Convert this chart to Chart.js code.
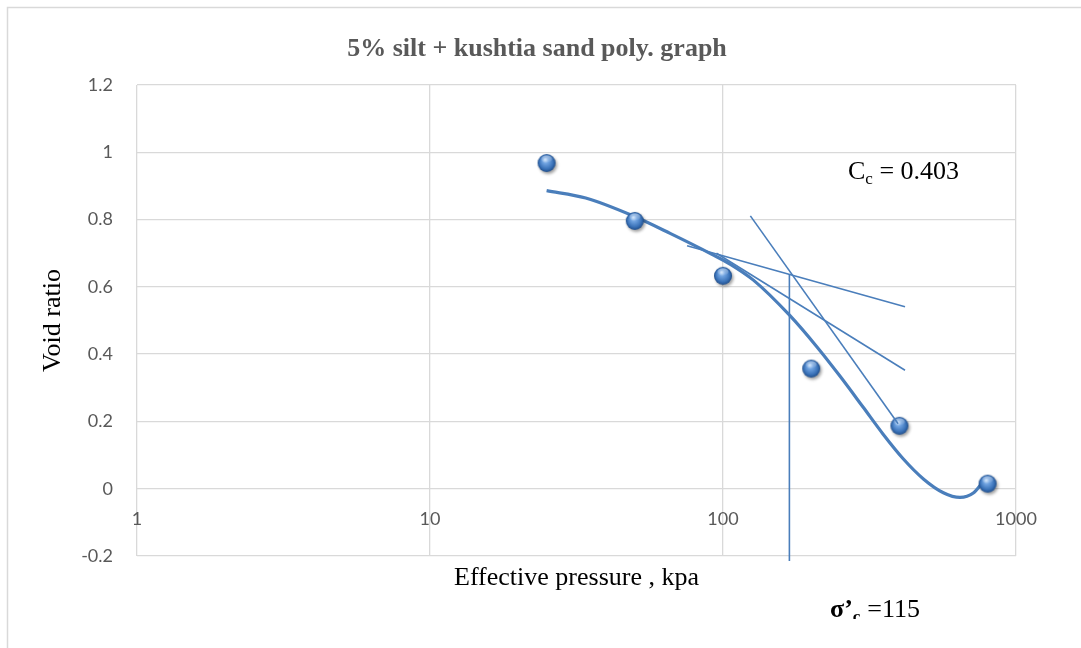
<!DOCTYPE html>
<html>
<head>
<meta charset="utf-8">
<script src="https://cdn.jsdelivr.net/npm/chart.js@4.4.1/dist/chart.umd.min.js"></script>
<style>
  html, body { margin: 0; padding: 0; background: #ffffff; }
  #wrap { width: 1081px; height: 648px; position: relative; }
</style>
</head>
<body>
<div id="wrap"><canvas id="c" width="1081" height="648"></canvas></div>
<script>
// ---- data ----
const pressure = [25, 50, 100, 200, 400, 800];
const voidRatio = [0.968, 0.796, 0.633, 0.357, 0.187, 0.015];

const trendX = [25, 34, 49, 66, 92, 106, 127, 169, 209, 251, 301, 352, 412, 483, 565, 644, 715, 773];
const trendY = [0.886, 0.864, 0.812, 0.759, 0.696, 0.667, 0.620, 0.515, 0.422, 0.334, 0.242, 0.162, 0.089, 0.029, -0.012, -0.026, -0.013, 0.021];

const tangentX = [75.4, 418];
const tangentY = [0.722, 0.541];
const bisectorX = [95, 418];
const bisectorY = [0.700, 0.352];
const slopeX = [124, 396];
const slopeY = [0.811, 0.193];
const verticalX = [168.5, 168.5];
const verticalY = [0.638, -0.215];

const xTicks = [1, 10, 100, 1000];
const yMin = -0.2, yMax = 1.2, yStep = 0.2;

const titleText = '5% silt + kushtia sand poly. graph';
const xTitle = 'Effective pressure , kpa';
const yTitle = 'Void ratio';
const ccValue = '0.403';
const sigmaValue = '115';

// ---- helpers ----
function pairs(xs, ys) { return xs.map((x, i) => ({ x: x, y: ys[i] })); }

function sphere() {
  const c = document.createElement('canvas');
  c.width = 28; c.height = 28;
  const g = c.getContext('2d');
  const cx = 14, cy = 14, r = 9;
  g.save();
  g.filter = 'blur(1.6px)';
  g.fillStyle = 'rgba(0,0,0,0.38)';
  g.beginPath(); g.arc(cx + 1.5, cy + 2, r, 0, Math.PI * 2); g.fill();
  g.restore();
  const grad = g.createRadialGradient(cx - 1.5, cy - 3.5, 0.5, cx, cy, r);
  grad.addColorStop(0, '#c3dcf8');
  grad.addColorStop(0.3, '#6fa2e0');
  grad.addColorStop(0.75, '#3a72b8');
  grad.addColorStop(1, '#1f4d8a');
  g.fillStyle = grad;
  g.beginPath(); g.arc(cx, cy, r, 0, Math.PI * 2); g.fill();
  const hl = g.createLinearGradient(0, cy - r, 0, cy);
  hl.addColorStop(0, 'rgba(255,255,255,0.55)');
  hl.addColorStop(1, 'rgba(255,255,255,0)');
  g.fillStyle = hl;
  g.beginPath(); g.ellipse(cx, cy - 4, 5.5, 3.5, 0, 0, Math.PI * 2); g.fill();
  return c;
}

const lineColor = '#4a7ebb';

const decor = {
  id: 'decor',
  beforeDraw(chart) {
    const ctx = chart.ctx;
    ctx.save();
    ctx.strokeStyle = '#d9d9d9';
    ctx.lineWidth = 1.5;
    ctx.beginPath();
    ctx.moveTo(7.5, 648); ctx.lineTo(7.5, 7.5); ctx.lineTo(1081, 7.5);
    ctx.stroke();
    ctx.restore();
  },
  afterDraw(chart) {
    const ctx = chart.ctx;
    const a = chart.chartArea;
    ctx.save();
    // chart title
    ctx.fillStyle = '#595959';
    ctx.font = 'bold 26px "Liberation Serif"';
    ctx.textAlign = 'center';
    ctx.textBaseline = 'middle';
    ctx.fillText(titleText, 537, 49);
    // axis titles
    ctx.fillStyle = '#000000';
    ctx.font = '26px "Liberation Serif"';
    ctx.fillText(xTitle, (a.left + a.right) / 2, 578);
    ctx.save();
    ctx.translate(53, (a.top + a.bottom) / 2);
    ctx.rotate(-Math.PI / 2);
    ctx.fillText(yTitle, 0, 0);
    ctx.restore();
    // Cc annotation
    ctx.textAlign = 'left';
    ctx.textBaseline = 'alphabetic';
    let x = 848;
    ctx.font = '26px "Liberation Serif"';
    ctx.fillText('C', x, 179); x += ctx.measureText('C').width;
    ctx.font = '17px "Liberation Serif"';
    ctx.fillText('c', x, 184); x += ctx.measureText('c').width;
    ctx.font = '26px "Liberation Serif"';
    ctx.fillText(' = ' + ccValue, x, 179);
    // sigma'c annotation
    x = 830;
    ctx.font = 'bold 26px "Liberation Serif"';
    ctx.fillText('\u03c3\u2019', x, 617); x += ctx.measureText('\u03c3\u2019').width;
    ctx.save();
    ctx.beginPath(); ctx.rect(x - 2, 600, 20, 19); ctx.clip();
    ctx.font = 'bold 17px "Liberation Serif"';
    ctx.fillText('c', x, 622);
    ctx.restore();
    x += 8;
    ctx.font = '26px "Liberation Serif"';
    ctx.fillText(' =' + sigmaValue, x, 617);
    ctx.restore();
  }
};

const ball = sphere();

new Chart(document.getElementById('c'), {
  type: 'scatter',
  data: {
    datasets: [
      { label: 'tangent', data: pairs(tangentX, tangentY), showLine: true, borderColor: lineColor, borderWidth: 1.6, pointRadius: 0, order: 1 },
      { label: 'bisector', data: pairs(bisectorX, bisectorY), showLine: true, borderColor: lineColor, borderWidth: 1.6, pointRadius: 0, order: 1 },
      { label: 'slope', data: pairs(slopeX, slopeY), showLine: true, borderColor: lineColor, borderWidth: 1.6, pointRadius: 0, order: 1 },
      { label: 'vertical', data: pairs(verticalX, verticalY), showLine: true, borderColor: lineColor, borderWidth: 1.6, pointRadius: 0, clip: false, order: 1 },
      { label: 'points', data: pairs(pressure, voidRatio), showLine: false, pointStyle: ball, pointRadius: 9, order: 2 },
      { label: 'trend', data: pairs(trendX, trendY), showLine: true, borderColor: lineColor, borderWidth: 3.2, pointRadius: 0, cubicInterpolationMode: 'monotone', order: 3 }
    ]
  },
  options: {
    responsive: false,
    animation: false,
    events: [],
    layout: { padding: { top: 85, right: 65, bottom: 92, left: 0 } },
    plugins: { legend: { display: false }, tooltip: { enabled: false }, title: { display: false } },
    scales: {
      x: {
        type: 'logarithmic',
        position: { y: 0 },
        min: 1, max: 1000,
        afterBuildTicks(scale) { scale.ticks = xTicks.map(v => ({ value: v, major: true })); },
        ticks: {
          autoSkip: false, maxRotation: 0, padding: 20,
          color: '#595959', font: { family: 'Lato', size: 18 },
          callback: (v) => String(v)
        },
        grid: { color: '#d9d9d9', lineWidth: 1.3, drawTicks: false },
        border: { display: false }
      },
      y: {
        min: yMin, max: yMax,
        afterFit(scale) { scale.width = 137; },
        ticks: {
          stepSize: yStep, padding: 24,
          color: '#595959', font: { family: 'Lato', size: 18 },
          callback: (v) => { const r = Math.round(v * 10) / 10; return r === 0 ? '0' : String(r); }
        },
        grid: { color: '#d9d9d9', lineWidth: 1.3, drawTicks: false },
        border: { display: false }
      }
    }
  },
  plugins: [decor]
});
</script>
</body>
</html>
